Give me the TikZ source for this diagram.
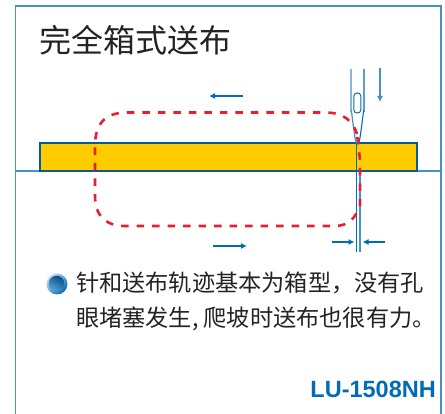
\documentclass[tikz,border=0pt]{standalone}
\usepackage{fontspec}
\usetikzlibrary{arrows.meta}
\setmainfont{Liberation Sans}
\newfontfamily\cjk{Noto Sans CJK SC}
\definecolor{myBlue}{RGB}{0,108,183}
\definecolor{myFrame}{RGB}{70,145,200}
\definecolor{myYellow}{RGB}{255,204,0}
\definecolor{myRed}{RGB}{237,28,50}
\definecolor{myInk}{RGB}{35,35,35}
\tikzset{
	frameline/.style = {myFrame, line width = 1.6pt},
	thinline/.style = {myBlue, line width = 1.1pt},
	pointer/.style = {myBlue, line width = 1.1pt, -{Latex[length = 6pt, width = 6pt]}},
	stitch/.style = {myRed, line width = 2.6pt, dash pattern = on 7.5pt off 8pt},
	bodytext/.style = {inner sep = 0pt, anchor = west, font = \cjk\fontsize{23.2}{25}\selectfont, text = myInk},
}

\begin{document}
\begin{tikzpicture}[x = 1pt, y = -1pt]
		\useasboundingbox (0, 0) rectangle (445, 414);
		%%%%%%%%%%%%%
		\coordinate (fTL) at (15.5, 6); \coordinate (fTR) at (441, 6);
		\coordinate (fBL) at (15.5, 414); \coordinate (fBR) at (441, 414);
		\coordinate (gL) at (15.5, 171); \coordinate (gR) at (441, 171);
		\coordinate (n1) at (351, 69); \coordinate (n2) at (351, 112);
		\coordinate (n3) at (364, 69); \coordinate (n4) at (364, 112);
		\coordinate (tip) at (357.5, 142);
		\coordinate (t1) at (356.8, 143); \coordinate (t2) at (356.8, 252);
		\coordinate (t3) at (360, 171); \coordinate (t4) at (360, 252);
		\coordinate (a1) at (380, 68); \coordinate (a2) at (380, 102);
		\coordinate (a3) at (243, 96); \coordinate (a4) at (209, 96);
		\coordinate (a5) at (213, 246); \coordinate (a6) at (247, 246);
		\coordinate (a7) at (331.5, 242); \coordinate (a8) at (354.5, 242);
		\coordinate (a9) at (384.5, 242); \coordinate (a10) at (362.5, 242);
		%%%%%%%%%%%%%
		\draw [frameline] (fBL) -- (fTL) -- (fTR) -- (fBR);
		\draw [frameline, line width = 1.2pt] (gL) -- (gR);
		\node (cloth) [draw = myBlue!85!black, fill = myYellow, line width = 1.1pt, minimum width = 377pt, minimum height = 28pt, inner sep = 0pt] at (228.5, 157) {};
		%%%%%%%%%%%%%
		\draw [frameline, line width = 1.2pt] (n1) -- (n2) to [out = 90, in = -100] (tip);
		\draw [thinline] (n3) -- (n4) to [out = 90, in = -80] (tip);
		\node (eye) [draw = myBlue, line width = 1pt, rounded corners = 3.2pt, minimum width = 7pt, minimum height = 20pt, inner sep = 0pt] at (357.3, 103) {};
		\draw [thinline] (t1) -- (t2);
		\draw [frameline, line width = 1.2pt] (t3) -- (t4);
		%%%%%%%%%%%%%
		\draw [stitch] (357, 134) .. controls (353, 122) and (345, 112.5) .. (325, 112.5) -- (127, 112.5) .. controls (104, 112.5) and (95, 125) .. (95, 146) -- (95, 196) .. controls (95, 216) and (106, 226) .. (125, 226) -- (335, 226) .. controls (348, 226) and (356, 218) .. (360, 205) -- (360, 160) -- (357, 134);
		%%%%%%%%%%%%%
		\draw [pointer, myFrame] (a1) to (a2);
		\draw [pointer] (a3) to (a4);
		\draw [pointer] (a5) to (a6);
		\draw [pointer] (a7) to (a8);
		\draw [pointer] (a9) to (a10);
		%%%%%%%%%%%%%
		\node (title) [inner sep = 0pt, anchor = west, font = \cjk\fontsize{32}{34}\selectfont, text = myInk] at (39, 40) {完全箱式送布};
		\node (dot) [circle, minimum size = 21pt, inner sep = 0pt, left color = myFrame!35, right color = myBlue, shading angle = 45] at (57, 284) {};
		\node (dotin) [circle, minimum size = 15.5pt, inner sep = 0pt, top color = myBlue!75!black, bottom color = myBlue!65, shading angle = -30] at (56.5, 283.5) {};
		\node (line1) [bodytext] at (76, 283) {针和送布轨迹基本为箱型，没有孔};
		\node (line2) [bodytext] at (76, 318.5) {眼堵塞发生,\hspace{5pt}爬坡时送布也很有力。};
		\node (model) [inner sep = 0pt, anchor = east, font = \bfseries\fontsize{23.5}{26}\selectfont, text = myBlue] at (436, 389) {LU-1508NH};
\end{tikzpicture}
\end{document}
